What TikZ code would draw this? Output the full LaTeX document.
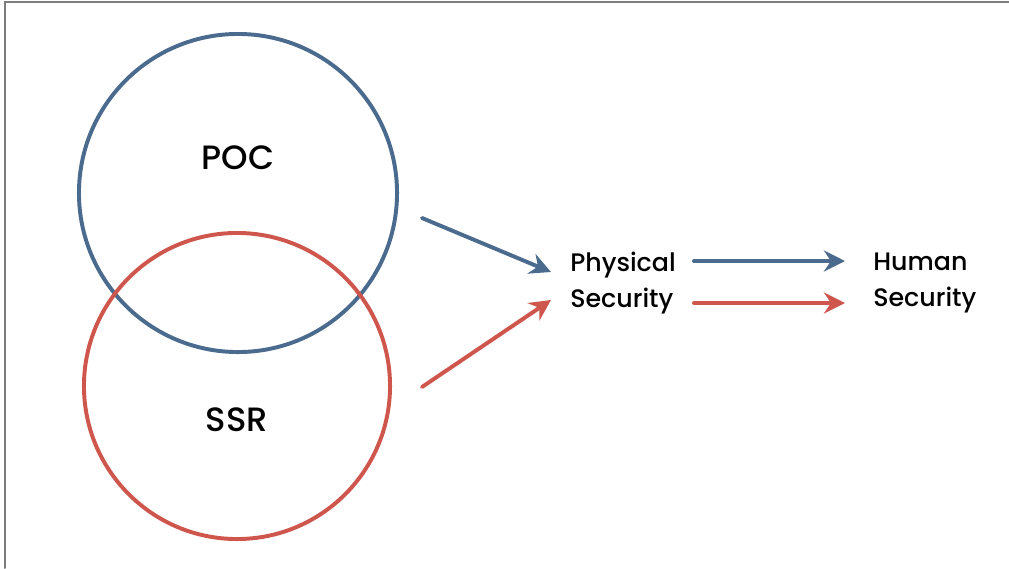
\documentclass[tikz,border=0pt]{standalone}
\usepackage{fontspec}
\setmainfont{Poppins}[UprightFont={* Medium}]
\usetikzlibrary{arrows.meta,positioning}
\definecolor{pocblue}{RGB}{74,106,142}
\definecolor{ssrred}{RGB}{206,86,76}
\definecolor{framegray}{RGB}{125,125,125}
\tikzset{>={Stealth[length=15pt,width=15pt,inset=5pt]},
  ring/.style={circle,line width=2.8pt,inner sep=0pt},
  big/.style={font=\fontsize{24}{28}\selectfont},
  small/.style={font=\fontsize{18}{25.6}\selectfont,align=left,inner sep=0pt,anchor=west},
  flow/.style={->,line width=2.8pt}}

\begin{document}
\begin{tikzpicture}[x=0.025cm,y=-0.025cm,line cap=round]

  \useasboundingbox (0,0) rectangle (1009,568);
  \draw [framegray, line width=1.4pt] (5,568) -- (5,2) -- (1009,2);

  % the two rings
  \node [ring, draw=pocblue, minimum size=7.95cm] (poc) at (238,193) {};
  \node [ring, draw=ssrred, minimum size=7.65cm] (ssr) at (237,386) {};
  \node [big] (poclabel) at (238,158) {POC};
  \node [big] (ssrlabel) at (237,420) {SSR};

  \node [small] (phys) at (570,283) {Physical\\Security};
  \node [small] (human) at (873,283) {Human\\Security};

  \coordinate (pocout) at (422,218);
  \coordinate (ssrout) at (422,387);
  \coordinate (physin1) at (551,272);
  \coordinate (physin2) at (551,300);
  \coordinate (physout1) at (694,261);
  \coordinate (physout2) at (694,303);
  \coordinate (humanin1) at (845,261);
  \coordinate (humanin2) at (845,303);

  \draw [flow, pocblue] (pocout) -- (physin1);
  \draw [flow, ssrred] (ssrout) -- (physin2);
  \draw [flow, pocblue] (physout1) -- (humanin1);
  \draw [flow, ssrred] (physout2) -- (humanin2);

\end{tikzpicture}
\end{document}
